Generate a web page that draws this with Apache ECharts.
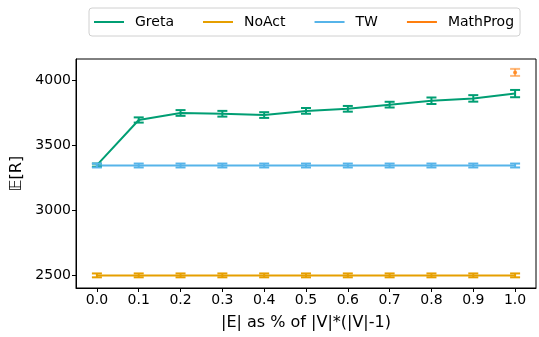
<!DOCTYPE html>
<html><head><meta charset="utf-8">
<script src="https://cdn.jsdelivr.net/npm/echarts@6/dist/echarts.min.js"></script>
<style>html,body{margin:0;padding:0;background:#fff}#c{width:539px;height:337px}</style>
</head><body><div id="c"></div>
<script>
const xs = [0.0, 0.1, 0.2, 0.3, 0.4, 0.5, 0.6, 0.7, 0.8, 0.9, 1.0];
const xTicks = ['0.0','0.1','0.2','0.3','0.4','0.5','0.6','0.7','0.8','0.9','1.0'];
const yTicks = [2500, 3000, 3500, 4000];
const greta = [3345, 3692, 3746, 3740, 3730, 3762, 3778, 3810, 3840, 3858, 3895];
const gretaErr = [12, 20, 22, 22, 22, 22, 22, 22, 25, 25, 28];
const noact = [2497, 2497, 2497, 2497, 2497, 2497, 2497, 2497, 2497, 2497, 2497];
const noactErr = [15, 15, 15, 15, 15, 15, 15, 15, 15, 15, 15];
const tw = [3342, 3342, 3342, 3342, 3342, 3342, 3342, 3342, 3342, 3342, 3342];
const twErr = [15, 15, 15, 15, 15, 15, 15, 15, 15, 15, 15];
const mathX = [1.0];
const mathProg = [4058];
const mathErr = [27];

const C = {Greta:'#009E73', NoAct:'#E69F00', TW:'#56B4E9', MathProg:'#FF7F0E'};

function errSeries(name, xv, yv, ev, color, opacity){
  return {
    name: name, type: 'custom', z: 3,
    data: xv.map((x,i)=>[x, yv[i]-ev[i], yv[i]+ev[i]]),
    renderItem: function(params, api){
      const lo = api.coord([api.value(0), api.value(1)]);
      const hi = api.coord([api.value(0), api.value(2)]);
      const w = 5;
      const st = {stroke: color, lineWidth: 2, opacity: opacity};
      return {type:'group', children:[
        {type:'line', shape:{x1:lo[0],y1:lo[1],x2:hi[0],y2:hi[1]}, style:st},
        {type:'line', shape:{x1:lo[0]-w,y1:lo[1],x2:lo[0]+w,y2:lo[1]}, style:st},
        {type:'line', shape:{x1:hi[0]-w,y1:hi[1],x2:hi[0]+w,y2:hi[1]}, style:st}
      ]};
    },
    silent: true
  };
}
function lineSeries(name, xv, yv, color){
  return {name:name, type:'line', data: xv.map((x,i)=>[x,yv[i]]), showSymbol:false,
    lineStyle:{color:color, width:2}, itemStyle:{color:color}, z:2, animation:false};
}

const chart = echarts.init(document.getElementById('c'), null, {renderer:'canvas'});
chart.setOption({
  animation: false,
  textStyle: {fontFamily: 'DejaVu Sans'},
  legend: {
    data: ['Greta','NoAct','TW','MathProg'].map(n=>({name:n, icon:'rect', itemStyle:{color:C[n], opacity:1}})),
    left: 89, top: 8,
    itemWidth: 30, itemHeight: 2, itemGap: 29,
    padding: [7, 6, 7, 5],
    borderColor: '#d0d0d0', borderWidth: 1, borderRadius: 3,
    textStyle: {fontSize: 14, color: '#000', padding: [0,0,0,6], fontFamily:'DejaVu Sans'}
  },
  grid: {left: 76, right: 3, top: 59, bottom: 49, show: true, borderColor: '#000', borderWidth: 1, backgroundColor:'transparent'},
  xAxis: {
    type: 'value', min: -0.05, max: 1.05,
    name: '|E| as % of |V|*(|V|-1)', nameLocation: 'middle', nameGap: 27,
    nameTextStyle: {fontSize: 16, color: '#000', fontFamily:'DejaVu Sans'},
    axisLine: {show: true, onZero: false, lineStyle: {color: '#000'}},
    axisTick: {show: true, length: 4, inside: false, customValues: xs, lineStyle:{color:'#000'}},
    axisLabel: {customValues: xs, formatter: v => xTicks[Math.round(v*10)], fontSize: 14, color: '#000', margin: 5, fontFamily:'DejaVu Sans'},
    splitLine: {show: false}
  },
  yAxis: {
    type: 'value', min: 2400, max: 4161,
    name: '𝔼[R]', nameLocation: 'middle', nameGap: 46, nameRotate: 90,
    nameTextStyle: {fontSize: 16, color: '#000', fontFamily:'DejaVu Sans'},
    axisLine: {show: true, onZero: false, lineStyle: {color: '#000'}},
    axisTick: {show: true, length: 4, customValues: yTicks, lineStyle:{color:'#000'}},
    axisLabel: {customValues: yTicks, formatter: v => String(v), fontSize: 14, color: '#000', margin: 5, fontFamily:'DejaVu Sans'},
    splitLine: {show: false}
  },
  series: [
    lineSeries('Greta', xs, greta, C.Greta),
    errSeries('Greta', xs, greta, gretaErr, C.Greta, 1),
    lineSeries('NoAct', xs, noact, C.NoAct),
    errSeries('NoAct', xs, noact, noactErr, C.NoAct, 1),
    lineSeries('TW', xs, tw, C.TW),
    errSeries('TW', xs, tw, twErr, C.TW, 1),
    {name:'MathProg', type:'scatter', data: mathX.map((x,i)=>[x, mathProg[i]]), symbol:'circle', symbolSize:4, itemStyle:{color:C.MathProg}, z:4},
    errSeries('MathProg', mathX, mathProg, mathErr, C.MathProg, 0.55)
  ]
});
</script></body></html>
